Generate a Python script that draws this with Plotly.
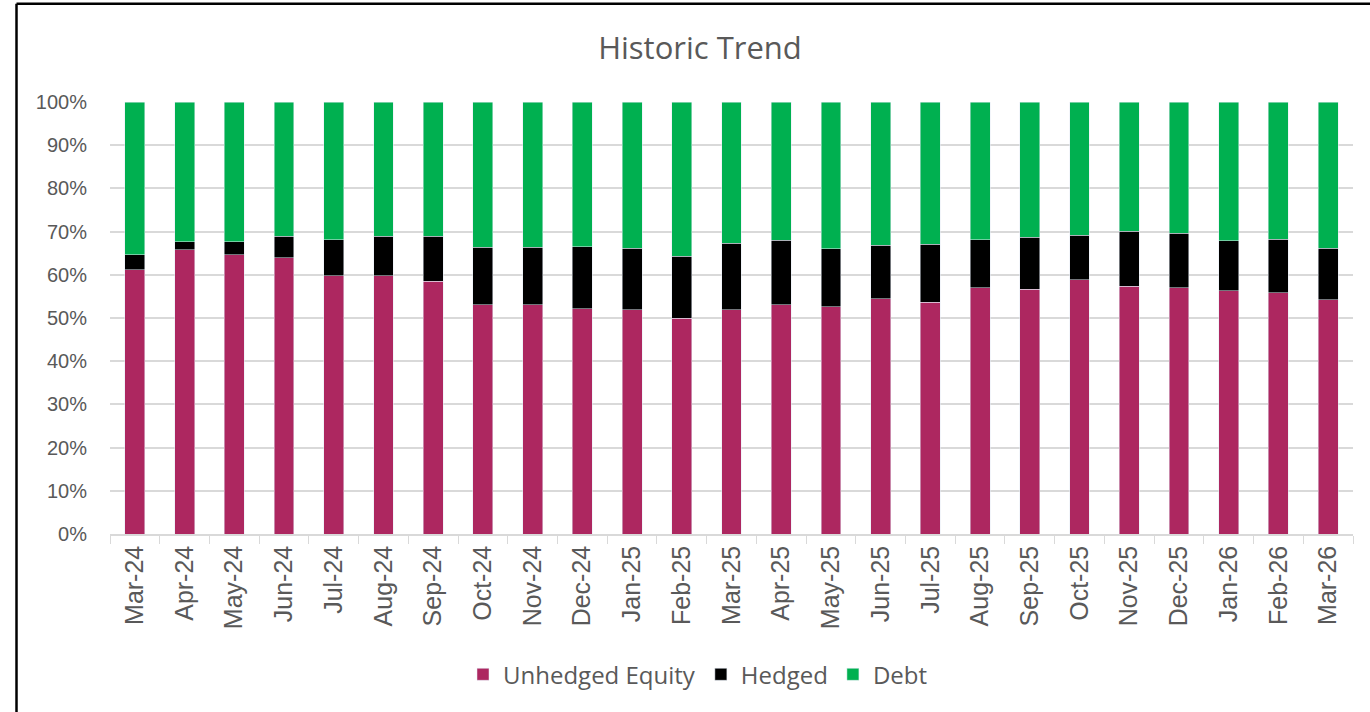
import plotly.graph_objects as go

months = ["Mar-24", "Apr-24", "May-24", "Jun-24", "Jul-24", "Aug-24", "Sep-24", "Oct-24",
          "Nov-24", "Dec-24", "Jan-25", "Feb-25", "Mar-25", "Apr-25", "May-25", "Jun-25",
          "Jul-25", "Aug-25", "Sep-25", "Oct-25", "Nov-25", "Dec-25", "Jan-26", "Feb-26", "Mar-26"]

unhedged = [61.2, 65.8, 64.7, 64.0, 59.8, 59.8, 58.5, 53.1,
            53.1, 52.2, 51.9, 49.9, 51.9, 53.1, 52.6, 54.4,
            53.7, 57.0, 56.7, 58.9, 57.3, 57.0, 56.3, 55.9, 54.2]
hedged = [3.5, 1.9, 2.9, 4.9, 8.3, 9.1, 10.4, 13.3,
          13.3, 14.3, 14.2, 14.4, 15.4, 14.9, 13.4, 12.4,
          13.4, 11.1, 12.0, 10.2, 12.8, 12.6, 11.6, 12.3, 12.0]
debt = [round(100 - u - h, 1) for u, h in zip(unhedged, hedged)]

PINK = "#AD2760"
BLACK = "#000000"
GREEN = "#00B050"
TXT = "#595959"
GRID = "#D9D9D9"

W, H = 1370, 712
scr_left, scr_right, scr_top, scr_bottom = 110, 1353, 102.3, 534.3
L = scr_left
R = W - scr_right
T = scr_top
B = H - scr_bottom
pw, ph = W - L - R, H - T - B

def px_x(p):
    return (p - scr_left) / pw

def px_y(p):
    return (scr_bottom - p) / ph

fig = go.Figure()
fig.add_trace(go.Bar(x=months, y=unhedged, name="Unhedged Equity", marker_color=PINK))
fig.add_trace(go.Bar(x=months, y=hedged, name="Hedged", marker_color=BLACK))
fig.add_trace(go.Bar(x=months, y=debt, name="Debt", marker_color=GREEN))

fig.update_layout(
    barmode="stack",
    bargap=0.6,
    width=W, height=H,
    margin=dict(l=L, r=R, t=T, b=B),
    paper_bgcolor="white",
    plot_bgcolor="white",
    font=dict(family="Liberation Sans, Arial, sans-serif", color=TXT),
    title=dict(text="Historic Trend", x=700 / W, xref="container", xanchor="center",
               y=1 - 48 / H, yref="container", yanchor="middle",
               font=dict(size=31, color=TXT, family="Open Sans, Liberation Sans, sans-serif")),
    legend=dict(orientation="h", x=px_x(698), xanchor="center", y=px_y(675), yanchor="middle",
                font=dict(size=24, color=TXT, family="Open Sans, Liberation Sans, sans-serif"),
                traceorder="normal", itemwidth=30),
    xaxis=dict(type="category", tickangle=-90, tickfont=dict(size=25, color=TXT),
               showline=True, linecolor=GRID, linewidth=1.5,
               ticks="outside", tickson="boundaries", ticklen=8, tickcolor=GRID,
               showgrid=False),
    yaxis=dict(range=[0, 100], dtick=10, ticksuffix="%", tickfont=dict(size=20, color=TXT),
               showgrid=True, gridcolor=GRID, gridwidth=1.5, zeroline=False,
               showline=False, ticks="", ticklabelstandoff=22),
    shapes=[
        dict(type="line", xref="paper", yref="paper",
             x0=px_x(16.5), x1=px_x(1400), y0=px_y(4), y1=px_y(4),
             line=dict(color="black", width=2.5), layer="above"),
        dict(type="line", xref="paper", yref="paper",
             x0=px_x(16.5), x1=px_x(16.5), y0=px_y(4), y1=px_y(760),
             line=dict(color="black", width=2.5), layer="above"),
    ],
)

fig.write_html("out.html",
               config={"displayModeBar": False},
               post_script="document.body.style.margin='0';document.body.style.overflow='hidden';")
